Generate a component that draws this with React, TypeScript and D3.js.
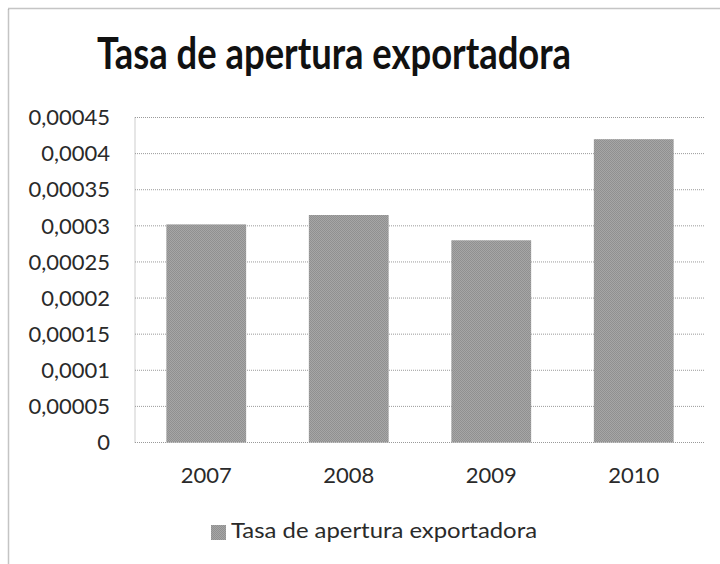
import React from "react";
import * as d3 from "d3";

const categories = ["2007", "2008", "2009", "2010"];
const values = [0.000302, 0.000315, 0.00028, 0.00042];
const tickValues = [0, 0.00005, 0.0001, 0.00015, 0.0002, 0.00025, 0.0003, 0.00035, 0.0004, 0.00045];
const tickLabels = ["0", "0,00005", "0,0001", "0,00015", "0,0002", "0,00025", "0,0003", "0,00035", "0,0004", "0,00045"];
const title = "Tasa de apertura exportadora";
const seriesName = "Tasa de apertura exportadora";

const W = 720;
const H = 564;
const plot = { left: 135, right: 705, top: 117.5, bottom: 442.5 };
const font = "Lato, 'Open Sans', sans-serif";

export default function App() {
  const x = d3
    .scaleBand<string>()
    .domain(categories)
    .range([plot.left, plot.right])
    .paddingInner(0.44)
    .paddingOuter(0.22);
  const y = d3.scaleLinear().domain([0, 0.00045]).range([plot.bottom, plot.top]);

  return (
    <svg
      width={W}
      height={H}
      style={{ position: "absolute", left: 0, top: 0, background: "#fff" }}
    >
      <defs>
        <pattern id="stip" width="2" height="2" patternUnits="userSpaceOnUse">
          <rect width="2" height="2" fill="#a6a6a6" />
          <rect width="1" height="1" fill="#909090" />
          <rect x="1" y="1" width="1" height="1" fill="#909090" />
        </pattern>
      </defs>
      <rect x={8.5} y={8.5} width={730} height={600} fill="none" stroke="#8a8a8a" strokeWidth={1.5} strokeDasharray="1 1" />
      <text
        x={334}
        y={69}
        textAnchor="middle"
        fontFamily={font}
        fontWeight="bold"
        fontSize={43}
        fill="#111"
        textLength={474}
        lengthAdjust="spacingAndGlyphs"
      >
        {title}
      </text>
      {tickValues.map((v) => (
        <line
          key={"g" + v}
          x1={plot.left}
          x2={plot.right}
          y1={y(v)}
          y2={y(v)}
          stroke="#9a9a9a"
          strokeWidth={1}
          strokeDasharray="1 1"
        />
      ))}
      <line x1={plot.left} x2={plot.left} y1={plot.top} y2={plot.bottom} stroke="#9a9a9a" strokeDasharray="1 1" />
      {tickValues.map((v, i) => (
        <text
          key={"t" + v}
          x={110}
          y={y(v)}
          dy="0.35em"
          textAnchor="end"
          fontFamily={font}
          fontSize={22}
          fill="#2a2a2a"
        >
          {tickLabels[i]}
        </text>
      ))}
      {categories.map((c, i) => (
        <rect
          key={"b" + c}
          x={x(c)}
          y={y(values[i])}
          width={x.bandwidth()}
          height={plot.bottom - y(values[i])}
          fill="url(#stip)"
        />
      ))}
      {categories.map((c) => (
        <text
          key={"x" + c}
          x={(x(c) as number) + x.bandwidth() / 2}
          y={483}
          textAnchor="middle"
          fontFamily={font}
          fontSize={22}
          fill="#2a2a2a"
        >
          {c}
        </text>
      ))}
      <rect x={211} y={525} width={15} height={15} fill="url(#stip)" />
      <text
        x={231}
        y={538}
        fontFamily={font}
        fontSize={21}
        fill="#2a2a2a"
        textLength={306}
        lengthAdjust="spacingAndGlyphs"
      >
        {seriesName}
      </text>
    </svg>
  );
}
